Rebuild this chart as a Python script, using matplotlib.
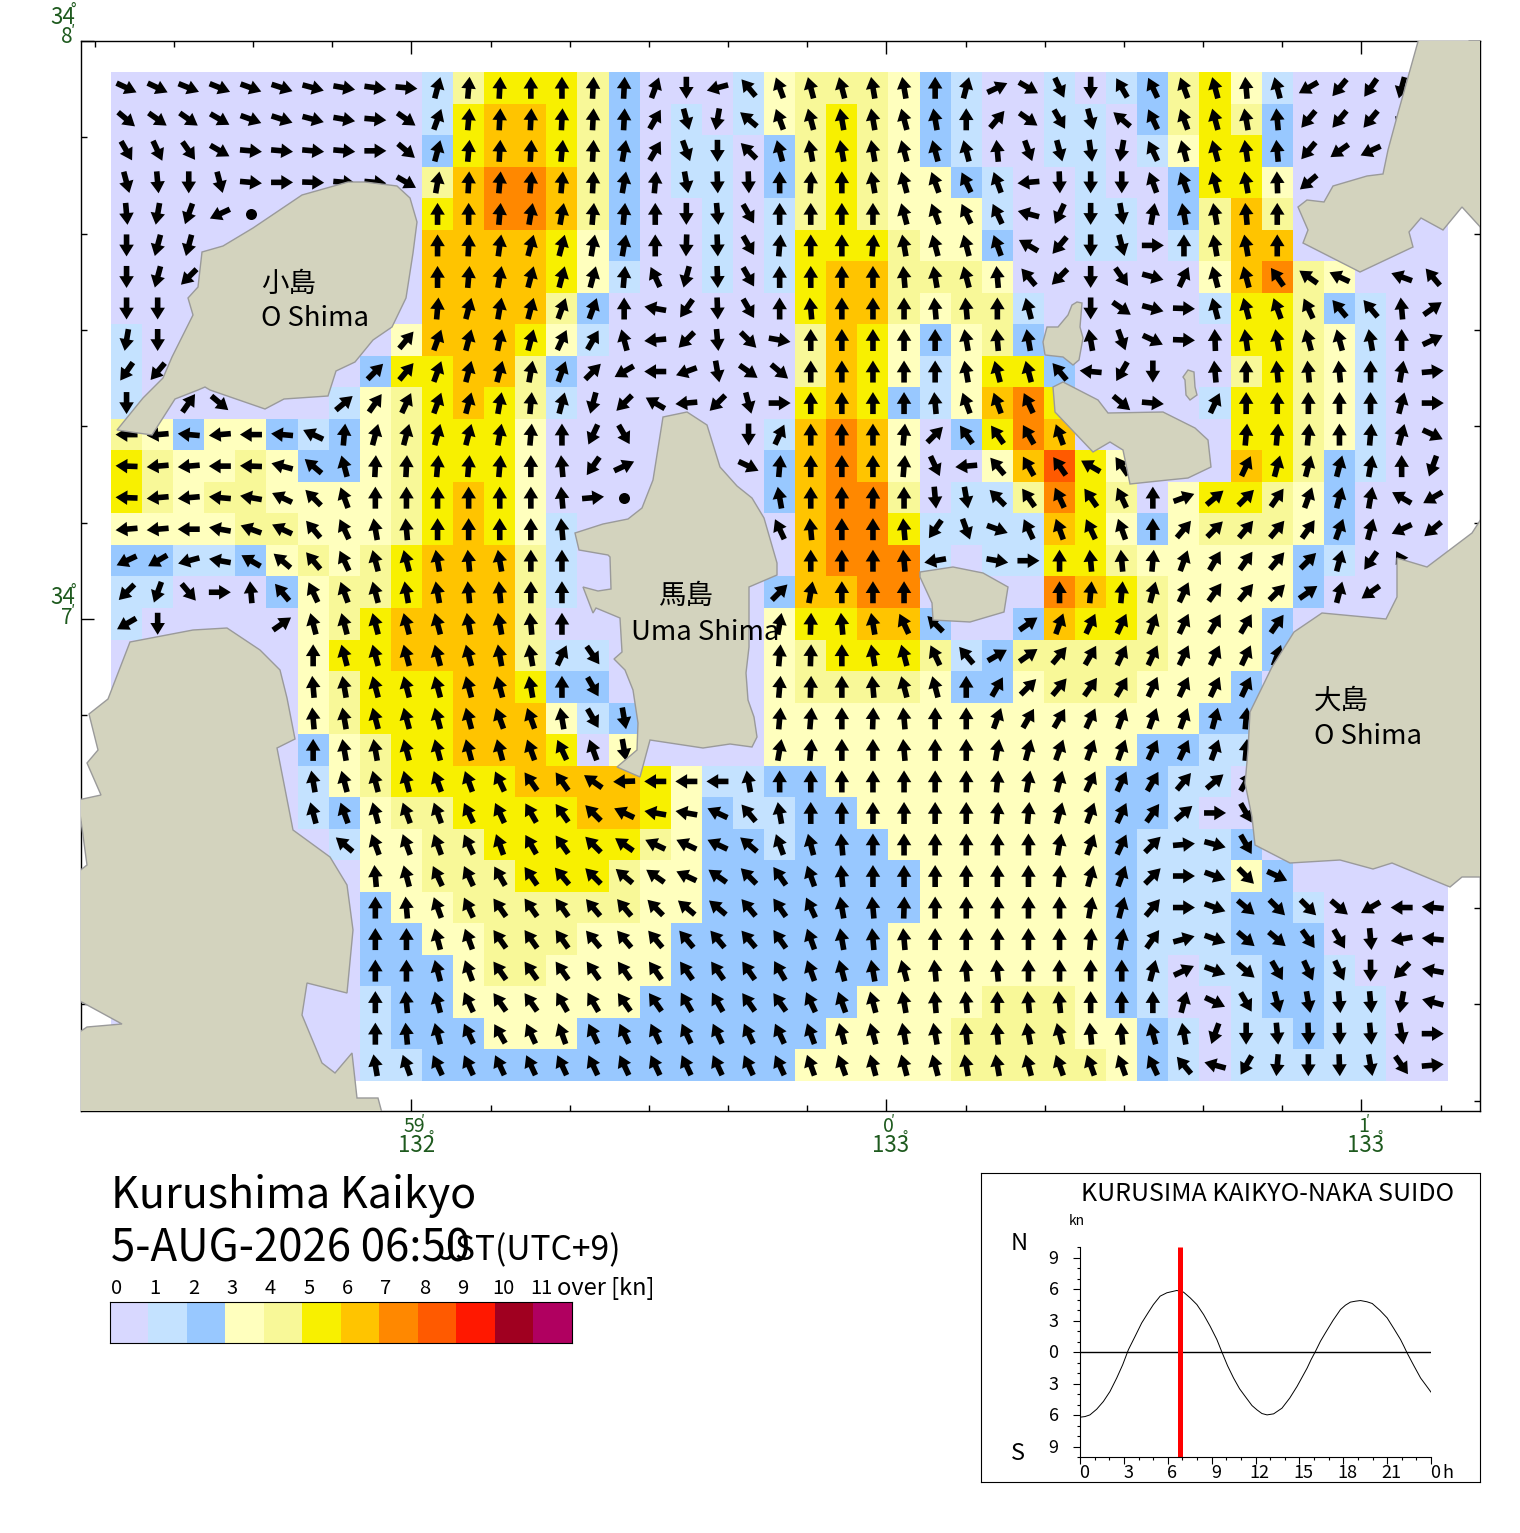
import numpy as np
import matplotlib
matplotlib.use('Agg')
import matplotlib.pyplot as plt
from matplotlib.colors import ListedColormap
from matplotlib.patches import Polygon

plt.rcParams['font.family'] = ['Noto Sans CJK JP', 'DejaVu Sans']

W, H = 1520, 1533

# speed class of each grid cell, north to south, one char per column
speed_rows = [
    "0000000000" "1455542000" "1344432100" "1012453100" "000",
    "0000000000" "1566542010" "1345432100" "1102454200" "000",
    "0000000000" "2566542011" "0245432100" "1101355200" "000",
    "0000000000" "4677642011" "0245433210" "0100255300" "000",
    "0000000000" "5677642001" "0145433310" "0110246400" "000",
    "0000000000" "6666532001" "0155543320" "0110146600" "000",
    "0000000000" "6666531001" "0156644430" "0000036743" "000",
    "0000000000" "6666420000" "0056643441" "0000015542" "100",
    "1000000003" "6665310000" "0046532342" "0000005543" "100",
    "1000000025" "5664200000" "0046531355" "2000004543" "100",
    "1000000134" "5654100000" "0056521367" "5000015543" "100",
    "4323321234" "5553000000" "0167630257" "6000005543" "100",
    "5433432234" "5553000000" "0267630036" "8530006542" "100",
    "5434433334" "5653000000" "0267740114" "7540355432" "000",
    "3333443334" "5653100000" "0067751111" "6532344432" "000",
    "2211234345" "6664100000" "0067771011" "5543333321" "000",
    "1100023445" "6664100000" "0266770000" "7654333320" "000",
    "1000003456" "6664000000" "0355662002" "6554333200" "000",
    "0000003556" "6664110000" "0345554124" "4444333200" "000",
    "0000003455" "5665220000" "0344443223" "4443332000" "000",
    "0000003455" "5666312000" "0333333333" "3333322000" "000",
    "0000002345" "5666503000" "0333333333" "3332211000" "000",
    "0000001345" "5556666531" "1223333333" "3322110000" "000",
    "0000001234" "4555566532" "1122333333" "3322100000" "000",
    "0000000133" "4455555432" "2122233333" "3321112000" "000",
    "0000000033" "4445554332" "2222223333" "3321113200" "000",
    "0000000023" "3444444332" "2222223333" "3321112210" "000",
    "0000000022" "3344433322" "2222233333" "3321112220" "000",
    "0000000022" "2344333322" "2222233333" "3321011221" "000",
    "0000000012" "2333333222" "2222333344" "4321001221" "100",
    "0000000012" "2233322222" "2223333444" "4332101121" "100",
    "0000000011" "2222222222" "2233333444" "4432101111" "100",
]

# flow bearing in degrees for each cell, -1 no arrow, -2 slack (dot)
_ = -1
bearing_rows = [
    [115,115,112,112,110,108,105,100,98,95, 15,5,3,0,0,3,3,20,180,255, 320,340,345,345,350,350,0,15,65,120, 155,180,330,335,340,345,355,345,240,220, 215,195,_],
    [130,125,125,120,110,108,105,100,95,125, 20,5,3,3,3,3,3,30,165,190, 310,340,345,350,350,345,350,0,40,125, 150,165,310,335,340,345,350,355,220,220, 220,200,_],
    [150,155,145,120,95,95,95,95,90,130, 15,5,3,3,5,3,10,30,160,180, 315,345,350,350,350,345,345,345,355,160, 165,172,190,335,345,345,352,355,220,235, 245,_,_],
    [165,175,180,165,95,90,92,95,95,120, 10,3,5,5,5,3,10,5,170,178, 178,0,3,0,350,345,340,335,340,265, 178,180,180,340,340,345,350,358,230,_, _,_,_],
    [175,190,200,245,-2,_,_,_,_,_, 0,0,5,10,10,5,5,0,180,175, 150,0,0,0,0,345,340,335,335,285, 205,180,170,10,350,350,355,0,_,_, _,_,_],
    [180,195,195,_,_,_,_,_,_,_, 0,3,8,15,15,10,10,0,182,178, 150,5,0,0,5,350,345,345,340,300, 220,180,165,90,0,350,350,0,_,_, _,_,_],
    [180,195,225,_,_,_,_,_,_,_, 0,5,10,15,15,15,5,335,195,178, 150,0,0,0,0,355,350,345,355,320, 225,180,145,105,25,345,345,325,305,295, _,290,320],
    [180,180,_,_,_,_,_,_,_,_, 5,15,10,15,20,20,0,280,215,178, 150,0,355,0,0,0,355,355,0,345, _,180,125,105,92,345,345,340,335,320, 320,355,55],
    [190,180,_,_,_,_,_,_,_,40, 20,15,12,15,25,30,345,265,225,175, 135,100,0,0,0,0,0,350,355,350, _,350,160,115,92,358,352,350,345,345, 350,0,65],
    [215,220,_,_,_,_,_,_,45,40, 20,15,15,10,20,45,240,270,250,170, 125,130,0,0,0,0,0,350,345,345, 320,275,210,180,_,355,0,355,355,355, 0,10,85],
    [180,_,35,130,_,_,_,50,35,25, 20,15,10,5,15,195,225,300,265,225, 165,90,0,0,0,0,355,340,340,335, _,_,130,95,_,25,0,0,0,0, 0,15,90],
    [270,265,275,265,270,275,295,5,15,15, 15,15,10,5,0,205,150,_,_,_, 180,25,0,0,0,5,45,325,325,330, 340,_,_,_,_,_,5,5,5,0, 5,15,115],
    [272,265,265,270,272,285,310,345,3,3, 5,5,5,0,355,215,65,_,_,_, 115,5,0,0,0,5,155,265,320,330, 325,300,325,_,_,_,25,15,15,15, 10,0,200],
    [272,265,265,275,280,295,315,340,0,0, 0,0,0,0,355,85,-2,_,_,_, _,350,0,0,2,0,175,170,315,325, 335,325,335,0,70,50,45,35,20,15, 10,300,240],
    [265,265,270,280,290,295,320,335,350,355, 0,0,0,0,355,_,_,_,_,_, _,335,355,0,0,355,215,160,110,335, 340,335,340,0,40,45,40,40,35,20, 15,245,230],
    [245,240,255,280,300,310,320,335,345,345, 350,355,350,0,0,_,_,_,_,_, _,_,0,0,0,355,260,_,100,90, 0,355,355,5,20,30,35,40,45,15, 215,330,_],
    [225,200,140,90,355,320,335,340,345,350, 350,355,355,0,0,_,_,_,_,_, _,45,10,0,0,0,_,_,_,_, 0,5,5,15,25,35,40,45,55,15, 235,_,_],
    [240,180,_,_,_,55,345,345,345,345, 345,350,350,355,0,_,_,_,_,_, _,10,2,355,350,335,315,_,_,55, 20,25,25,20,25,30,30,35,_,_, _,_,_],
    [_,_,_,_,_,_,0,345,345,345, 345,345,350,350,25,145,_,_,_,_, _,5,2,0,350,345,335,320,60,55, 40,30,25,25,25,25,25,20,_,_, _,_,_],
    [_,_,_,_,_,_,355,350,345,345, 345,345,345,350,0,150,_,_,_,_, _,5,2,0,355,345,345,0,30,45, 40,35,30,25,25,25,25,_,_,_, _,_,_],
    [_,_,_,_,_,_,355,350,345,345, 345,345,340,340,350,150,170,_,_,_, _,5,5,0,2,355,0,0,20,30, 30,25,20,20,20,15,5,_,_,_, _,_,_],
    [_,_,_,_,_,_,0,350,350,345, 345,345,345,340,335,340,170,_,_,_, _,10,5,0,0,355,0,0,10,15, 20,20,20,25,25,20,5,_,_,_, _,_,_],
    [_,_,_,_,_,_,350,345,345,345, 340,340,335,325,325,305,268,270,270,270, 350,0,0,0,0,0,0,0,5,10, 15,25,25,30,40,50,30,_,_,_, _,_,_],
    [_,_,_,_,_,_,345,340,345,340, 340,335,335,330,325,315,295,280,280,295, 320,350,0,0,0,0,0,0,5,5, 15,20,25,35,50,90,150,_,_,_, _,_,_],
    [_,_,_,_,_,_,_,310,340,340, 340,335,340,330,325,315,305,295,295,295, 310,340,345,355,0,0,0,0,0,0, 10,20,25,45,85,105,150,_,_,_, _,_,_],
    [_,_,_,_,_,_,_,_,355,345, 335,335,330,325,320,315,310,305,295,305, 315,325,340,355,0,0,0,0,0,0, 5,15,20,45,90,110,135,115,_,_, _,_,_],
    [_,_,_,_,_,_,_,_,0,355, 340,335,325,325,325,320,320,315,310,310, 320,325,335,350,355,2,0,0,0,0, 0,10,15,40,90,110,130,135,135,130, 240,270,275],
    [_,_,_,_,_,_,_,_,0,0, 345,340,325,325,325,320,320,320,320,320, 320,325,340,350,355,355,0,0,0,0, 0,5,10,35,75,110,130,130,145,150, 175,260,275],
    [_,_,_,_,_,_,_,_,0,0, 345,340,325,325,325,325,325,325,325,325, 325,330,340,345,350,345,355,355,355,0, 0,0,0,15,65,110,130,150,155,155, 180,225,280],
    [_,_,_,_,_,_,_,_,0,355, 345,335,325,325,330,330,325,325,330,330, 325,325,335,340,345,350,355,355,0,355, 355,0,0,0,15,115,150,165,170,175, 175,190,285],
    [_,_,_,_,_,_,_,_,0,355, 345,335,330,335,340,335,335,335,335,335, 335,335,340,345,345,350,350,355,355,350, 345,355,355,345,350,200,180,175,178,178, 175,170,90],
    [_,_,_,_,_,_,_,_,350,340, 335,335,335,335,335,335,335,335,335,335, 335,335,340,340,345,345,345,350,350,345, 340,340,340,335,320,285,210,185,180,178, 170,145,85],
]

speed_colors = ['#D8D8FF', '#C4E2FF', '#98C8FF', '#FFFFBE', '#F8F898', '#F8F000',
                '#FFC400', '#FF8800', '#FF5A00', '#FF1800', '#A00020', '#B00060']
speed_labels = ['0', '1', '2', '3', '4', '5', '6', '7', '8', '9', '10', '11']

# tide curve at the reference station
tide_hours = [0, .34, .68, 1.14, 1.6, 2.05, 2.51, 2.92, 3.31, 3.77, 4.22, 4.68, 5.02, 5.48, 5.94, 6.62, 7.08,
              7.53, 7.99, 8.45, 8.9, 9.36, 9.7, 10.09, 10.5, 10.91, 11.3, 11.76, 12.1, 12.44, 12.79, 13.24,
              13.81, 14.34, 14.84, 15.18, 15.53, 15.8, 16.1, 16.44, 16.78, 17.31, 17.81, 18.15, 18.49, 18.84,
              19.18, 19.63, 19.98, 20.5, 21.0, 21.46, 21.92, 22.15, 22.37, 22.83, 23.29, 23.63, 24]
tide_knots = [-6.21, -6.15, -5.99, -5.45, -4.71, -3.76, -2.48, -1.21, .22, 1.5, 2.77, 3.79, 4.52, 5.32, 5.64, 5.86, 5.7,
              5.16, 4.52, 3.57, 2.45, 1.18, 0, -1.31, -2.48, -3.5, -4.24, -5.1, -5.51, -5.86, -5.99, -5.89,
              -5.35, -4.39, -3.28, -2.42, -1.53, -.73, .06, 1.02, 1.82, 3.03, 4.04, 4.46, 4.75, 4.84,
              4.9, 4.78, 4.62, 3.98, 3.25, 2.23, 1.18, .54, -.1, -1.31, -2.48, -3.12, -3.82]
now_hour = 6 + 50 / 60

# coastlines (sheet pixels, converted to lon/lat below)
coast_koshima = [(348,182),(365,182),(397,186),(410,198),(417,222),(413,253),(406,298),(392,327),(373,340),
                 (355,362),(336,371),(328,396),(284,399),(265,409),(210,390),(205,387),(198,390),(175,399),
                 (152,435),(117,430),(143,398),(163,378),(172,357),(193,315),(188,298),(198,287),(202,252),
                 (223,246),(253,228),(302,195)]
coast_uma = [(687,412),(707,425),(720,467),(737,486),(752,498),(764,518),(777,563),(777,575),(749,587),
             (749,623),(749,647),(746,673),(748,700),(754,717),(757,737),(752,747),(730,744),(703,748),
             (650,740),(640,777),(617,767),(637,750),(638,723),(633,690),(625,670),(614,659),(622,652),
             (620,618),(596,608),(593,613),(583,587),(598,591),(611,589),(610,557),(608,555),(579,550),
             (575,533),(603,524),(628,519),(642,508),(653,480),(663,417)]
coast_southwest = [(130,642),(193,630),(227,628),(260,650),(280,670),(287,698),(295,739),(277,748),(293,830),
                   (330,857),(347,885),(353,930),(347,993),(307,983),(302,1015),(322,1063),(335,1073),
                   (352,1053),(357,1098),(378,1098),(382,1113),(78,1113),(78,1033),(87,1027),(122,1024),
                   (78,1000),(78,872),(87,865),(82,828),(78,800),(101,795),(87,763),(98,750),(89,714),(108,699)]
coast_northeast = [(1419,38),(1483,38),(1483,230),(1462,207),(1443,230),(1421,218),(1409,232),(1413,247),
                   (1360,272),(1303,243),(1308,230),(1298,207),(1307,200),(1324,202),(1333,186),(1367,176),
                   (1383,174),(1388,150),(1398,113)]
coast_islet_a = [(1077,302),(1082,303),(1080,327),(1083,338),(1079,360),(1073,365),(1063,357),(1045,355),
                 (1043,342),(1047,327),(1058,327),(1068,315),(1072,305)]
coast_islet_b = [(1188,370),(1194,372),(1195,387),(1197,395),(1190,400),(1186,395),(1185,380),(1183,377)]
coast_middle = [(1053,387),(1063,382),(1098,400),(1108,413),(1163,412),(1195,428),(1208,440),(1211,467),
                (1188,478),(1168,480),(1130,484),(1123,450),(1110,442),(1093,452),(1055,412)]
coast_small = [(920,572),(953,567),(983,573),(1008,587),(1004,612),(970,622),(933,620),(932,603),(920,577)]
coast_oshima = [(1483,516),(1472,533),(1427,567),(1397,558),(1397,597),(1386,619),(1322,613),(1294,632),
                (1272,667),(1250,712),(1248,750),(1246,773),(1245,783),(1252,817),(1255,845),(1290,863),
                (1340,860),(1373,869),(1392,863),(1450,887),(1462,877),(1483,877)]
coasts = [coast_koshima, coast_uma, coast_southwest, coast_northeast, coast_islet_a,
          coast_islet_b, coast_middle, coast_small, coast_oshima]


def lon_of(px):
    return (px - 886.5) / 475.0


def lat_of(py):
    return 8 - (py - 41) / 578.0


def put(x, y, s, **kw):
    kw.setdefault('va', 'center')
    kw.setdefault('ha', 'left')
    fig.text(x / W, 1 - (y + 2) / H, s, **kw)


def axes_px(x0, y0, x1, y1):
    return fig.add_axes([x0 / W, 1 - y1 / H, (x1 - x0) / W, (y1 - y0) / H])


fig = plt.figure(figsize=(W / 100, H / 100), dpi=100)

# main map
ax = axes_px(81, 41, 1480, 1111)
ax.set_xlim(lon_of(81), lon_of(1480))
ax.set_ylim(lat_of(1111), lat_of(41))

speed = np.array([[int(c) for c in row] for row in speed_rows])
bearing = np.array(bearing_rows, dtype=float)
n_rows, n_cols = speed.shape
lon_edges = lon_of(111 + 31.1 * np.arange(n_cols + 1))
lat_edges = lat_of(72 + 31.53 * np.arange(n_rows + 1))
cmap = ListedColormap(speed_colors)
ax.pcolormesh(lon_edges, lat_edges, speed, cmap=cmap, vmin=-0.5, vmax=11.5, antialiased=False, zorder=1)

lon_c = (lon_edges[:-1] + lon_edges[1:]) / 2
lat_c = (lat_edges[:-1] + lat_edges[1:]) / 2
LON, LAT = np.meshgrid(lon_c, lat_c)
has_arrow = bearing >= 0
rad = np.deg2rad(bearing[has_arrow])
ax.quiver(LON[has_arrow], LAT[has_arrow], 22 * np.sin(rad), 22 * np.cos(rad), angles='uv',
          scale_units='dots', scale=1, units='dots', width=5.6, headwidth=2.6, headlength=2.1,
          headaxislength=2.1, pivot='mid', color='k', zorder=2)
ax.scatter(LON[bearing == -2], LAT[bearing == -2], s=63, c='k', linewidths=0, zorder=2)

for coast in coasts:
    pts = [(lon_of(x), lat_of(y)) for x, y in coast]
    ax.add_patch(Polygon(pts, closed=True, fc='#D3D3BE', ec='#9A9A9A', lw=1, zorder=3))

ax.set_xticks([-1, 0, 1])
ax.set_yticks([7, 8])
ax.set_xticks(np.arange(-10, 8) / 6, minor=True)
ax.set_yticks(np.arange(37, 48) / 6, minor=True)
ax.set_xticklabels([])
ax.set_yticklabels([])
ax.tick_params(which='major', direction='in', length=9, width=1, top=True, right=True)
ax.tick_params(which='minor', direction='in', length=4.5, width=1, top=True, right=True)
for tick_set in (ax.xaxis.get_minor_ticks(), ax.yaxis.get_minor_ticks()):
    for t in tick_set:
        if abs((t.get_loc() * 2) % 2 - 1) < 1e-6:
            for line in (t.tick1line, t.tick2line):
                line.set_markersize(6.5)
for s in ax.spines.values():
    s.set_linewidth(1)

# place names
name_size = 19.8
put(261, 282, '小島', fontsize=name_size, zorder=5)
put(261, 316, 'O Shima', fontsize=name_size, zorder=5)
put(659, 594, '馬島', fontsize=name_size, zorder=5)
put(631, 630, 'Uma Shima', fontsize=name_size, zorder=5)
put(1314, 699, '大島', fontsize=name_size, zorder=5)
put(1314, 735, 'O Shima', fontsize=name_size, zorder=5)

# graticule labels
green = '#1E5A1E'
put(50, 15, '34', color=green, fontsize=16)
put(70, 8, '°', color=green, fontsize=11)
put(61, 35, '8', color=green, fontsize=15)
put(71, 30, '′', color=green, fontsize=11)
put(50, 596, '34', color=green, fontsize=16)
put(70, 589, '°', color=green, fontsize=11)
put(61, 616, '7', color=green, fontsize=15)
put(71, 610, '′', color=green, fontsize=11)
for x, minute, degree in [(404, '59', '132'), (883, '0', '133'), (1358, '1', '133')]:
    put(x, 1125, minute, color=green, fontsize=14)
    put(x + (17 if minute == '59' else 8), 1119, '′', color=green, fontsize=10)
    deg_x = x - 6 if minute == '59' else x - 11
    put(deg_x, 1144, degree, color=green, fontsize=16)
    put(deg_x + 30, 1136, '°', color=green, fontsize=10)

# title block
put(111, 1194, 'Kurushima Kaikyo', fontsize=31)
put(111, 1246, '5-AUG-2026 06:50', fontsize=31.5)
put(438, 1249, 'JST(UTC+9)', fontsize=24.2)

# speed scale
cb = axes_px(109.5, 1302, 571.5, 1343)
cb.pcolormesh(np.arange(13), [0, 1], np.arange(12).reshape(1, -1), cmap=cmap, vmin=-0.5, vmax=11.5)
cb.set_xticks([])
cb.set_yticks([])
for i, label in enumerate(speed_labels):
    cb.text(i + 0.18 + (0.05 if i > 9 else 0), 1.34, label, fontsize=14.5, ha='center', va='center', clip_on=False)
put(557, 1286, 'over [kn]', fontsize=17)

# tide panel
box = axes_px(981, 1173, 1480, 1482)
box.set_xticks([])
box.set_yticks([])
put(1081, 1192, 'KURUSIMA KAIKYO-NAKA SUIDO', fontsize=18)
put(1069, 1219, 'kn', fontsize=10)
put(1011, 1241, 'N', fontsize=17)
put(1011, 1451, 'S', fontsize=17)

tx = axes_px(1080, 1247, 1431, 1457)
tx.set_xlim(0, 24)
tx.set_ylim(-10, 10)
tx.plot(tide_hours, tide_knots, color='k', lw=0.7)
tx.axhline(0, color='k', lw=1)
tx.plot([now_hour, now_hour], [-10, 10], color='#FF0000', lw=3.6, solid_capstyle='butt')
tx.spines['top'].set_visible(False)
tx.spines['right'].set_visible(False)
tx.set_xticks(np.arange(0, 25, 3))
tx.set_xticks(np.arange(0, 25), minor=True)
tx.set_yticks([-9, -6, -3, 0, 3, 6, 9])
tx.set_yticks(np.arange(-10, 11), minor=True)
tx.set_xticklabels([])
tx.set_yticklabels([])
tx.tick_params(which='major', length=5, width=0.8)
tx.tick_params(which='minor', length=2.5, width=0.8)
for h, label in zip(range(0, 25, 3), ['0', '3', '6', '9', '12', '15', '18', '21', '0']):
    tx.annotate(label, (h, -10), xytext=(3, -11.5), textcoords='offset points', ha='center', va='center', fontsize=13)
tx.annotate('h', (24, -10), xytext=(12, -11.5), textcoords='offset points', ha='center', va='center', fontsize=13)
for v, label in zip([-9, -6, -3, 0, 3, 6, 9], ['9', '6', '3', '0', '3', '6', '9']):
    tx.annotate(label, (0, v), xytext=(-19, -1), textcoords='offset points', ha='center', va='center', fontsize=13)

fig.savefig('out.png', dpi=100)
